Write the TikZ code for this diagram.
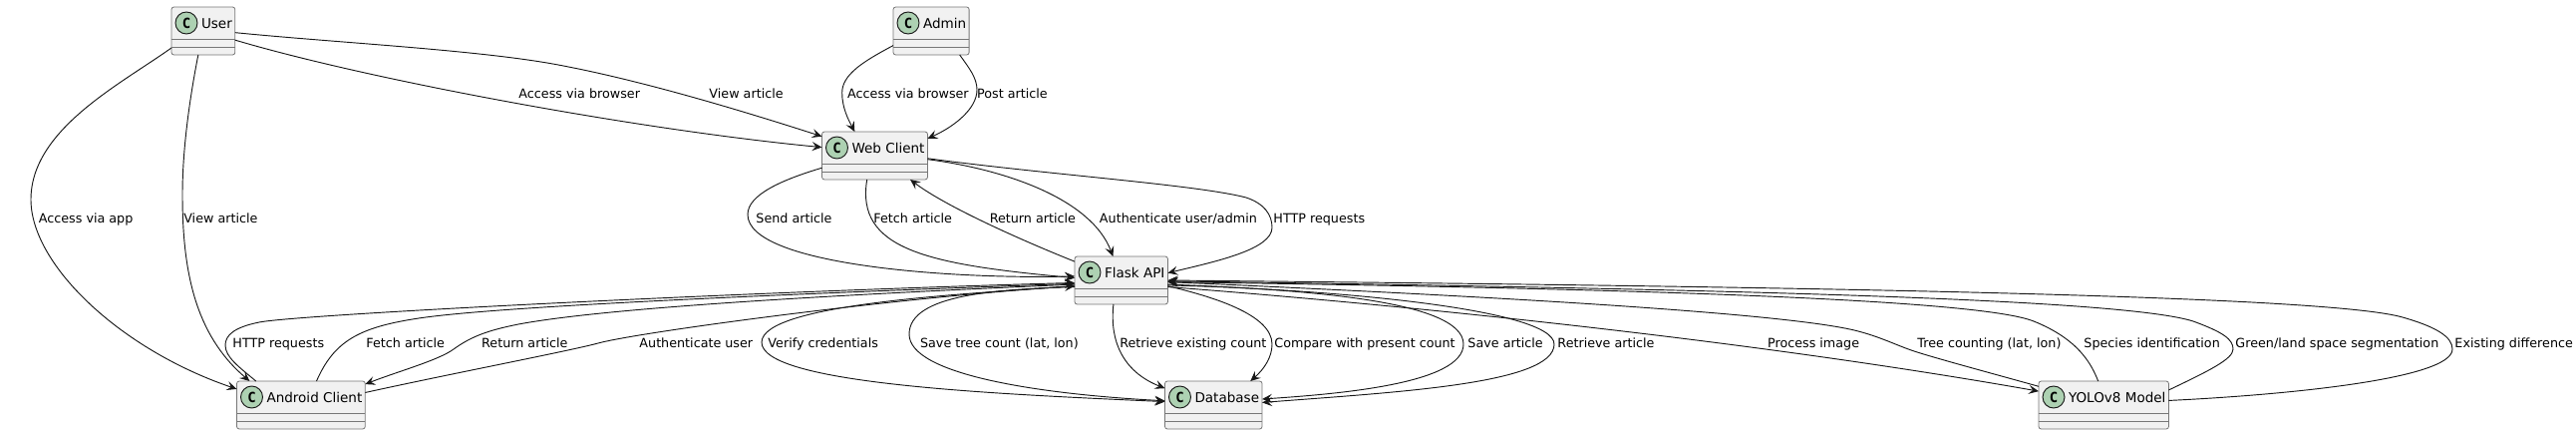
\documentclass[tikz,border=0pt]{standalone}
\usepackage{fontspec}
\setmainfont{DejaVu Sans}
\newfontfamily\circlefont{DejaVu Sans Mono}
\usetikzlibrary{arrows.meta,calc}
\definecolor{boxfill}{HTML}{F1F1F1}
\definecolor{circfill}{HTML}{ADD1B2}
\definecolor{inkline}{HTML}{181818}
\definecolor{boxline}{HTML}{777777}
\newcommand{\ctitle}[1]{\hspace*{22.5pt}\raisebox{2.25pt}[0pt][0pt]{#1}\hspace*{2.25pt}}

\begin{document}
\begin{tikzpicture}[x=0.75pt, y=-0.75pt, >={Stealth[length=7.5pt,width=6.75pt,inset=3pt]}, line width=0.7pt]
    \tikzstyle{every path}=[draw=none]
    \tikzstyle{classbox}=[draw=boxline, fill=boxfill, line width=0.6pt, rounded corners=1.9pt,
        anchor=north west, minimum height=36pt, inner sep=0pt, outer sep=0pt, font=\fontsize{10.15}{12}\selectfont,
        path picture={
            \draw[draw=boxline, line width=0.6pt] ($(path picture bounding box.north west)+(0,32)$) -- ($(path picture bounding box.north east)+(0,32)$);
            \draw[draw=boxline, line width=0.6pt] ($(path picture bounding box.north west)+(0,40)$) -- ($(path picture bounding box.north east)+(0,40)$);
            \node[draw=inkline, fill=circfill, circle, anchor=center, line width=0.7pt, minimum size=16.5pt, inner sep=0pt, font=\circlefont\bfseries\fontsize{10.5}{12}\selectfont] at ($(path picture bounding box.north west)+(15,16)$) {C};
        }]
    \tikzstyle{edgelabel}=[anchor=base west, inner sep=0pt, font=\fontsize{9.55}{12}\selectfont]
    \tikzstyle{link}=[draw=inkline, ->]
    \useasboundingbox (0,0) rectangle (2584,436);

    \node[classbox] (user)    at (172,7)    {\ctitle{User}};
    \node[classbox] (admin)   at (896,7)    {\ctitle{Admin}};
    \node[classbox] (web)     at (824.5,132) {\ctitle{Web Client}};
    \node[classbox] (flask)   at (1078,257) {\ctitle{Flask API}};
    \node[classbox] (android) at (237.5,382) {\ctitle{Android Client}};
    \node[classbox] (db)      at (1168.5,382) {\ctitle{Database}};
    \node[classbox] (yolo)    at (2045,382) {\ctitle{YOLOv8 Model}};

    \node[edgelabel] (lbrowser)  at (520,98)    {Access via browser};
    \node[edgelabel] (lview)     at (711,98)    {View article};
    \node[edgelabel] (lbrowserb) at (849.7,98)  {Access via browser};
    \node[edgelabel] (lpost)     at (979.7,98)  {Post article};
    \node[edgelabel] (lapp)      at (38.4,223)  {Access via app};
    \node[edgelabel] (lviewb)    at (183.8,223) {View article};
    \node[edgelabel] (lsend)     at (758,223)   {Send article};
    \node[edgelabel] (lfetch)    at (876,223)   {Fetch article};
    \node[edgelabel] (lreturn)   at (992.3,223) {Return article};
    \node[edgelabel] (lauth)     at (1102.5,223) {Authenticate user/admin};
    \node[edgelabel] (lhttp)     at (1277,223)  {HTTP requests};
    \node[edgelabel] (lhttpb)    at (233,348)   {HTTP requests};
    \node[edgelabel] (lfetchb)   at (367,348)   {Fetch article};
    \node[edgelabel] (lreturnb)  at (482.7,348) {Return article};
    \node[edgelabel] (lauthb)    at (641,348)   {Authenticate user};
    \node[edgelabel] (lverify)   at (770,348)   {Verify credentials};
    \node[edgelabel] (lsavetree) at (922.6,348) {Save tree count (lat, lon)};
    \node[edgelabel] (lexisting) at (1122.8,348) {Retrieve existing count};
    \node[edgelabel] (lcompare)  at (1278,348)  {Compare with present count};
    \node[edgelabel] (lsave)     at (1472,348)  {Save article};
    \node[edgelabel] (lretrieve) at (1562,348)  {Retrieve article};
    \node[edgelabel] (lprocess)  at (1772.6,348) {Process image};
    \node[edgelabel] (ltree)     at (1923,348)  {Tree counting (lat, lon)};
    \node[edgelabel] (lspecies)  at (2090,348)  {Species identification};
    \node[edgelabel] (lgreen)    at (2242,348)  {Green/land space segmentation};
    \node[edgelabel] (ldiff)     at (2462,348)  {Existing difference};

    \path[link] (user.208) .. controls (120,85) and (31,130) .. (31,200) .. controls (31,265) and (120,350) .. (android.166);
    \path[link] (user.-102) .. controls (190,100) and (183,150) .. (183,195) .. controls (183,270) and (195,335) .. (android.155.6);
    \path[link] (user.-16) .. controls (370,80) and (640,130) .. (web.171.3);
    \path[link] (user.-3.6) .. controls (340,43) and (480,50) .. (560,65) .. controls (640,80) and (735,108) .. (web.160);
    \path[link] (admin.-159) .. controls (865,62) and (844.7,75) .. (844.7,93) .. controls (844.7,108) and (851,120) .. (web.130.5);
    \path[link] (admin.-40) .. controls (972,68) and (980,78) .. (980,90) .. controls (980,110) and (955,128) .. (web.18.8);

    \path[link] (web.-167) .. controls (785,180) and (750,195) .. (750,215) .. controls (750,265) and (950,280) .. (flask.175);
    \path[link] (web.-108.4) .. controls (858,250) and (930,265) .. (flask.177.5);
    \path[link] (flask.158.6) .. controls (1030,243) and (950,208) .. (web.-34.4);
    \path[link] (web.-4.3) .. controls (1010,170) and (1095,200) .. (flask.109);
    \path[link] (web.-3.2) .. controls (1050,175) and (1200,185) .. (1250,198) .. controls (1268,204) and (1276,215) .. (1276,228) .. controls (1276,250) and (1220,262) .. (flask.9.9);

    \path[link] (android.152) .. controls (240,368) and (226,358) .. (226,346) .. controls (226,336) and (235,328) .. (260,323) .. controls (300,315) and (760,292) .. (flask.-177.5);
    \path[link] (android.57) .. controls (335,342) and (360,328) .. (420,319) .. controls (500,307) and (780,295) .. (flask.-176.3);
    \path[link] (flask.-175) .. controls (800,297) and (600,310) .. (520,325) .. controls (490,331) and (473,337) .. (455,350) .. controls (440,361) and (400,372) .. (android.18.2);
    \path[link] (android.11.5) .. controls (450,375) and (570,352) .. (600,344) .. controls (640,333) and (900,298) .. (flask.-173.8);

    \path[link] (flask.-173.8) .. controls (960,295) and (765,305) .. (764,343) .. controls (764,385) and (1000,395) .. (db.176.5);
    \path[link] (flask.-172.6) .. controls (1000,290) and (912,295) .. (912,335) .. controls (912,375) and (1040,395) .. (db.175);
    \path[link] (flask.-108.4) .. controls (1113,340) and (1125,372) .. (db.161);
    \path[link] (flask.-7.4) .. controls (1215,297) and (1276,315) .. (1276,345) .. controls (1276,358) and (1268,370) .. (db.33);
    \path[link] (flask.-5) .. controls (1300,290) and (1468,300) .. (1468,345) .. controls (1468,385) and (1340,395) .. (db.7);
    \path[link] (flask.-6.2) .. controls (1340,290) and (1559,310) .. (1559,345) .. controls (1559,385) and (1400,393) .. (db.3.5);

    \path[link] (flask.-8.7) .. controls (1400,305) and (1750,340) .. (yolo.168.8);
    \path[link] (yolo.164.6) .. controls (1990,372) and (1945,360) .. (1920,352) .. controls (1902,346) and (1885,337) .. (1860,331) .. controls (1780,312) and (1450,295) .. (flask.-2.5);
    \path[link] (yolo.103) .. controls (2098,365) and (2085,340) .. (2040,322) .. controls (1990,302) and (1700,290) .. (flask.-2.4);
    \path[link] (yolo.13.7) .. controls (2215,372) and (2240,360) .. (2240,350) .. controls (2240,340) and (2230,333) .. (2200,322) .. controls (2130,300) and (1750,290) .. (flask.-1.2);
    \path[link] (yolo.4.4) .. controls (2290,396) and (2460,380) .. (2460,350) .. controls (2460,338) and (2445,328) .. (2410,318) .. controls (2340,298) and (1900,288) .. (flask.0);
\end{tikzpicture}
\end{document}
